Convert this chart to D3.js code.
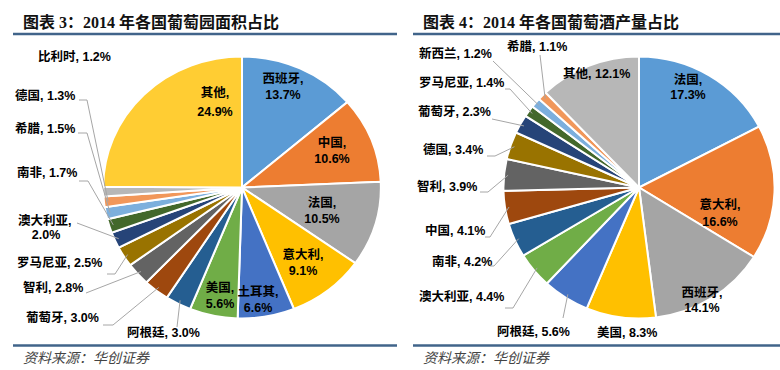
<!DOCTYPE html>
<html><head><meta charset="utf-8">
<script src="https://cdn.jsdelivr.net/npm/d3@7/dist/d3.min.js"></script>
<style>
html,body{margin:0;padding:0;background:#fff;}
svg text{font-family:"Liberation Sans","Noto Sans CJK SC",sans-serif;}
</style></head>
<body><svg id="c" width="780" height="370"></svg>
<script>
// ---- data ----
const vineyardCountries = ["西班牙","中国","法国","意大利","土耳其","美国","阿根廷","葡萄牙","智利","罗马尼亚","澳大利亚","南非","希腊","德国","比利时","其他"];
const vineyardShares = [13.7,10.6,10.5,9.1,6.6,5.6,3.0,3.0,2.8,2.5,2.0,1.7,1.5,1.3,1.2,24.9];
const wineCountries = ["法国","意大利","西班牙","美国","阿根廷","澳大利亚","南非","中国","智利","德国","葡萄牙","罗马尼亚","新西兰","希腊","其他"];
const wineShares = [17.3,16.6,14.1,8.3,5.6,4.4,4.2,4.1,3.9,3.4,2.3,1.4,1.2,1.1,12.1];
const titles = ["图表 3：2014 年各国葡萄园面积占比","图表 4：2014 年各国葡萄酒产量占比"];
const sourceText = "资料来源：华创证券";

// ---- styles / layout ----
const palette = ["#5B9BD5","#ED7D31","#A5A5A5","#FFC000","#4472C4","#70AD47","#255E91","#9E480E","#636363","#997300","#264478","#43682B","#7CAFDD","#F1975A","#B7B7B7","#FFCD33"];

const leftLayout = {
  cx:242, cy:187.5, R:131, sx:1.06,
  labels:{
    0:{mode:"in",x:283,y:[79,95]},
    1:{mode:"in",x:332,y:[143,159]},
    2:{mode:"in",x:322,y:[203,219]},
    3:{mode:"in",x:303,y:[255,271]},
    4:{mode:"in",x:258,y:[292,308]},
    5:{mode:"in",x:220,y:[288,304]},
    15:{mode:"in",x:215,y:[93,112]},
    6:{mode:"out",x:127,y:333,lead:[[177,327]]},
    7:{mode:"out",x:26,y:318,lead:[[103,325],[113,325]]},
    8:{mode:"out",x:23,y:288,lead:[[86,293]]},
    9:{mode:"out",x:17,y:263,lead:[[107,274],[115,274]]},
    10:{mode:"out2",x:18,x2:46,y:[221,235],lead:[[77,223]]},
    11:{mode:"out",x:17,y:173,lead:[[79,181],[88,181]]},
    12:{mode:"out",x:15,y:129,lead:[[78,133],[87,133]]},
    13:{mode:"out",x:15,y:96,lead:[[79,100],[87,100]]},
    14:{mode:"out",x:38,y:57}
  }
};
const rightLayout = {
  cx:639, cy:187.5, R:131, sx:1.035,
  labels:{
    0:{mode:"in",x:688,y:[80,95]},
    1:{mode:"in",x:720,y:[205,222]},
    2:{mode:"in",x:702,y:[293,308]},
    3:{mode:"out",x:597,y:333},
    4:{mode:"out",x:497,y:332,lead:[[563,318]]},
    5:{mode:"out",x:419,y:297,lead:[[505,308],[513,308]]},
    6:{mode:"out",x:432,y:262,lead:[[490,266],[494,266]]},
    7:{mode:"out",x:425,y:231,lead:[[485,237],[490,237]]},
    8:{mode:"out",x:417,y:187,lead:[[480,192],[488,192]]},
    9:{mode:"out",x:423,y:150,lead:[[487,156],[495,156]]},
    10:{mode:"out",x:418,y:112,lead:[[492,119]]},
    11:{mode:"out",x:419,y:83,lead:[[505,89],[510,89]]},
    12:{mode:"out",x:419,y:54,lead:[[493,61]]},
    13:{mode:"out",x:507,y:47,lead:[[540,55]]},
    14:{mode:"out",x:563,y:74}
  }
};

const svg = d3.select("#c");
const lineColor = "#41648A";

function frame(x0, x1, title){
  svg.append("text").attr("x",x0+10).attr("y",22).attr("dy","0.35em")
    .attr("font-size",16).attr("font-weight","bold").attr("fill","#111")
    .style("font-family",'"Liberation Serif","Noto Sans CJK SC",serif')
    .text(title);
  svg.append("line").attr("x1",x0).attr("x2",x1).attr("y1",34).attr("y2",34)
    .attr("stroke",lineColor).attr("stroke-width",2.5);
  svg.append("line").attr("x1",x0).attr("x2",x1).attr("y1",345.5).attr("y2",345.5)
    .attr("stroke",lineColor).attr("stroke-width",2.5);
  svg.append("text").attr("x",x0+10).attr("y",358).attr("dy","0.35em")
    .attr("font-size",14).attr("font-style","italic").attr("fill","#444")
    .text(sourceText);
}
frame(13, 397, titles[0]);
frame(413, 780, titles[1]);

function drawPie(names, values, L){
  const pie = d3.pie().sort(null).value(d=>d)(values);
  const arc = d3.arc().innerRadius(0).outerRadius(L.R);
  const color = d3.scaleOrdinal().domain(names).range(palette);
  const g = svg.append("g").attr("transform",`translate(${L.cx},${L.cy}) scale(${L.sx},1)`);
  g.selectAll("path").data(pie).join("path")
    .attr("d",arc)
    .attr("fill",(d,i)=>color(names[i]))
    .attr("stroke","#fff").attr("stroke-width",2)
    .attr("vector-effect","non-scaling-stroke");

  const fmt = v => v.toFixed(1) + "%";
  pie.forEach((d,i)=>{
    const lab = L.labels[i];
    if(!lab) return;
    const t = svg.append("g").attr("font-size",12.5).attr("font-weight","bold").attr("fill","#000");
    if(lab.mode==="in"){
      t.append("text").attr("x",lab.x).attr("y",lab.y[0]).attr("dy","0.35em").attr("text-anchor","middle").text(names[i]+",");
      t.append("text").attr("x",lab.x).attr("y",lab.y[1]).attr("dy","0.35em").attr("text-anchor","middle").text(fmt(values[i]));
    } else if(lab.mode==="out2"){
      t.append("text").attr("x",lab.x).attr("y",lab.y[0]).attr("dy","0.35em").text(names[i]+",");
      t.append("text").attr("x",lab.x2).attr("y",lab.y[1]).attr("dy","0.35em").attr("text-anchor","middle").text(fmt(values[i]));
    } else {
      t.append("text").attr("x",lab.x).attr("y",lab.y).attr("dy","0.35em").text(names[i]+", "+fmt(values[i]));
    }
    if(lab.lead){
      const a = (d.startAngle+d.endAngle)/2;
      const k = 0.97;
      const end = [L.cx + L.sx*L.R*k*Math.sin(a), L.cy - L.R*k*Math.cos(a)];
      const pts = lab.lead.concat([end]);
      svg.append("path").attr("d",d3.line()(pts))
        .attr("fill","none").attr("stroke","#A6A6A6").attr("stroke-width",1);
    }
  });
}
drawPie(vineyardCountries, vineyardShares, leftLayout);
drawPie(wineCountries, wineShares, rightLayout);
</script></body></html>
